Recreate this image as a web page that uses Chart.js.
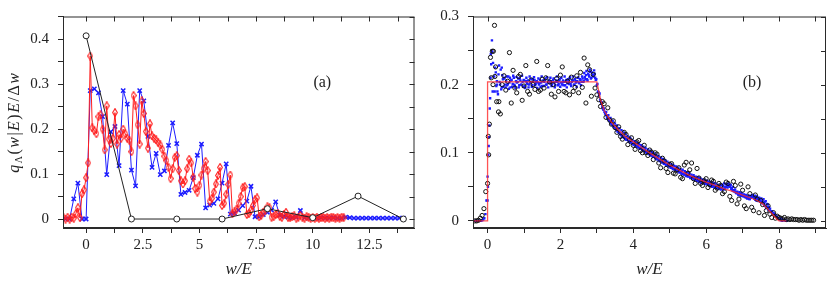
<!DOCTYPE html>
<html>
<head>
<meta charset="utf-8">
<script src="https://cdn.jsdelivr.net/npm/chart.js@4.4.1/dist/chart.umd.min.js"></script>
<style>
  body { margin: 0; background: #fff; width: 831px; height: 282px; position: relative; overflow: hidden; }
  canvas { position: absolute; top: 0; }
</style>
</head>
<body>
<canvas id="panelA" width="420" height="282" style="left:0"></canvas>
<canvas id="panelB" width="411" height="282" style="left:420px"></canvas>
<script>
// ---------- panel (a) ----------
// red diamonds: first at w/E = -1, spacing 1/11
const redAStart = -1, redAStep = 1 / 11;
const redAY = [
  .003, 0, .004, 0, .004, .002, .012, .025, .003, .056, .065,
  .092, .125, .363, .203, .197, .19, .228, .232, .2, .154, .252,
  .178, .168, .18, .237, .167, .188, .18, .2, .19, .18, .175,
  .15, .275, .252, .21, .167, .263, .235, .195, .158, .212, .185,
  .18, .176, .17, .165, .155, .14, .13, .115, .09, .112, .137,
  .141, .108, .085, .078, .085, .112, .133, .125, .093, .068, .06,
  .075, .098, .112, .128, .108, .04, .046, .06, .078, .097, .115,
  .03, .035, .055, .077, .098, .012, .016, .022, .035, .05, .07,
  .072, .01, .012, .02, .03, .043, .047, .005, .008, .015, .02,
  .027, .025, .004, .005, .01, .012, .006, .004, .01, .015, .004,
  .003, .005, .007, .002, .004, .008, .003, .002, .005, .004, .002,
  .003, .002, .004, .002, .003, .004, .002, .003, .002, .004, .003, .002, .003, .002, .004, .003
];
// blue crosses: first at w/E = -10/11, spacing 2/11
const blueAStart = -10 / 11, blueAStep = 2 / 11;
const blueAY = [
  0, 0, .045, .08, 0,
  0, .286, .29, .281, .228, .099, .194, .206, .119, .286,
  .256, .109, .074, .286, .263, .184, .115, .146, .099, .107,
  .164, .214, .168, .055, .059, .064, .092, .142, .167, .025,
  .031, .035, .045, .08, .123, .011, .013, .02, .03, .04,
  .073, .005, .005, .01, .015, .02, .038, .008, .006, .004,
  .003, .004, .019, .003, .002, .003, .002, .003, .002, .002,
  .003, .002, .002, .004, .003, .002, .002, .002, .002, .002,
  .002, .002, .002, .002, .002, .002, .002, .002
];
// black circles
const blackAX = [0, 2, 4, 6, 8, 10, 12, 14];
const blackAY = [.408, 0, 0, 0, .023, .003, .051, 0];
const xLabelsA = [0, 2.5, 5, 7.5, 10, 12.5];
const yLabelsA = [0, 0.1, 0.2, 0.3, 0.4];

// ---------- panel (b) ----------
const lineBX = [-0.4, 0, 0, 3.0, 3.1, 3.2, 3.4, 3.6, 3.8, 4.0, 4.25, 4.5, 4.75, 5.0, 5.25, 5.5,
  5.75, 6.0, 6.25, 6.5, 6.75, 7.0, 7.2, 7.4, 7.55, 7.7, 7.85, 7.95, 8.0, 8.2];
const lineBY = [0, 0, .204, .204, .178, .162, .145, .133, .123, .116, .107, .098, .09, .082, .075, .068,
  .062, .057, .052, .047, .043, .038, .034, .03, .025, .017, .008, .002, 0, 0];

// blue squares, first run: from w/E = -0.39, spacing 0.03
const blueBStart = -0.39, blueBStep = 0.03;
const blueBY = [
  0, 0, 0, 0, 0, 0, 0, 0, .001, .002,
  .004, .01, .03, .065, .11, .165, .245, .265, .232, .212,
  .225, .198, .19, .215, .204, .222, .196, .208, .21, .2,
  .205, .199, .212, .203, .196, .207, .201, .21, .198, .205,
  .203, .209, .199, .206, .2, .204, .207, .198, .205, .202,
  .206, .2, .203, .208, .199, .204, .207, .201, .205, .203,
  .2, .207, .203, .198, .206, .204, .209, .2, .203, .206,
  .202, .205, .2, .207, .203, .199, .206, .204, .201, .208,
  .203, .2, .206, .204, .199, .207, .202, .205, .209, .201,
  .204, .206, .2, .208, .203, .205, .21, .202, .207, .204,
  .209, .205, .211, .214, .208, .216, .212, .219, .21, .215,
  .212, .216, .207, .199, .19, .184, .178, .172, .168, .163,
  .16, .157, .154, .15, .148, .146, .143, .141, .139, .137,
  .136, .133, .131, .13, .128, .126, .125, .123, .122, .12,
  .119, .121, .117, .116, .115, .117, .113, .112, .114, .11,
  .109, .111, .107, .106, .108, .104, .103, .105, .101, .1,
  .102, .098, .097, .099, .095, .094, .096, .092, .091, .093,
  .089, .088, .09, .086, .085, .087, .083, .082, .084, .08,
  .081, .079, .078, .08, .076, .075, .077, .073, .074, .072,
  .071, .073, .069, .068, .07, .067, .066, .068, .065, .064,
  .065, .063, .062, .064, .061, .06, .062, .059, .06, .058,
  .057, .059, .056, .055, .057, .054, .053, .055, .052, .053,
  .051, .052, .05, .049, .051, .048, .049, .047, .048, .046,
  .047, .05, .052, .054, .051, .05, .047, .045, .044, .043,
  .042, .041, .04, .039, .04, .038, .037, .038, .036, .035,
  .034, .035, .033, .032, .034, .036, .035, .033, .031, .03,
  .032, .029, .031, .028, .026, .027, .024, .022, .019, .02,
  .016, .017, .013, .014, .01, .011, .007, .008, .005, .004,
  .003, .004, .002, .002, .001, .001, 0, 0
];
// blue squares, second run: from w/E = 0.195, spacing 0.03
const blueB2Start = 0.195, blueB2Step = 0.03;
const blueB2Y = [
  .19, .218, .205, .186, .228, .2, .193, .214, .197, .209,
  .196, .212, .201, .194, .21, .206, .197, .213, .2, .195,
  .211, .204, .196, .209, .2, .213, .197, .206, .195, .21,
  .201, .196, .212, .203, .197, .208, .211, .199, .204, .195,
  .209, .202, .197, .212, .205, .198, .207, .2, .211, .196,
  .205, .21, .198, .203, .209, .196, .204, .212, .199, .206,
  .197, .21, .203, .199, .212, .205, .196, .208, .201, .211,
  .198, .206, .212, .2, .205, .197, .21, .203, .208, .199,
  .212, .204, .217, .208, .22, .206, .214, .222, .209, .218,
  .213, .221, .21, .208,
  .201, .189, .187, .175, .174, .165, .165, .158, .16, .151,
  .155, .147, .151, .143, .147, .139, .143, .136, .14, .132,
  .136, .128, .133, .125, .13, .122, .127, .12, .124, .117,
  .122, .115, .119, .112, .117, .11, .115, .108, .113, .106,
  .111, .104, .109, .102, .107, .1, .105, .098, .103, .096,
  .101, .094, .099, .092, .097, .09, .095, .088, .093, .086,
  .091, .084, .089, .082, .087, .08, .085, .078, .083, .076,
  .081, .075, .08, .073, .078, .071, .076, .069, .075, .068,
  .073, .066, .071, .065, .07, .063, .068, .062, .067, .06,
  .065, .059, .064, .057, .063, .056, .061, .055, .06, .054,
  .059, .053, .058, .051, .057, .05, .056, .049, .055, .048,
  .053, .047, .052, .046, .053, .051, .055, .05, .054, .049,
  .055, .05, .053, .048, .05, .045, .046, .041, .043, .038,
  .042, .037, .041, .036, .039, .035, .038, .033, .037, .032,
  .037, .035, .038, .036, .037, .034, .036, .033, .034, .03,
  .033, .03, .032, .028, .029, .025, .024, .02, .018, .014,
  .014, .011, .01, .007, .006, .004, .003, .002, .001, 0
];
const blueBExtraX = [0.0, 0.01, 0.02, 0.04, 0.05, 0.07, 0.08, 0.1, 0.11, 0.13, 0.14, 0.26, 0.39];
const blueBExtraY = [.03, .05, .097, .123, .14, .18, .21, .23, .25, .248, .19, .2, .225];

// black circles: first at w/E = -0.35, spacing 0.05
const blackBStart = -0.35, blackBStep = 0.05;
const blackBY = [
  0, 0, .001, .004, .008, .018, .043, .055, .142, .21,
  .2, .212, .175, .16, .157, .2, .213, .192, .205, .247,
  .173, .221, .195, .188, .212, .215, .177, .198, .228, .19,
  .186, .207, .2, .193, .234, .19, .192, .208, .195, .21,
  .228, .204, .186, .2, .182, .209, .19, .214, .226, .19,
  .188, .205, .185, .211, .19, .196, .213, .188, .218, .196,
  .239, .173, .229, .222, .183, .215, .195, .185, .178, .168,
  .175, .172, .152, .166, .148, .142, .147, .137, .13, .138,
  .124, .12, .13, .127, .112, .119, .122, .111, .105, .116,
  .118, .103, .1, .111, .1, .096, .104, .101, .09, .1,
  .098, .085, .078, .092, .088, .077, .071, .083, .084, .07,
  .069, .075, .078, .064, .062, .082, .086, .07, .075, .085,
  .062, .055, .077, .063, .055, .052, .059, .062, .049, .053,
  .06, .058, .045, .048, .055, .052, .04, .043, .057, .055,
  .036, .03, .058, .052, .025, .032, .054, .045, .022, .018,
  .05, .04, .02, .015, .038, .032, .012, .03, .024, .008,
  .015, .022, .01, .005, .012, .004, .007, .005, .004, .003,
  .005, .002, .003, .002, .003, .002, .002, .002, .001, .002,
  .001, .002, .001, .001, .001, .001, .001
];
const blackBExtraX = [0.02, 0.03, 0.08, 0.13, 0.16, 0.19, 0.22, 0.31];
const blackBExtraY = [.124, .097, .24, .249, .249, .287, .226, .175];
const xLabelsB = [0, 2, 4, 6, 8];
const yLabelsB = [0, 0.1, 0.2, 0.3];

// ---------- helpers ----------
const SERIF = '"Liberation Serif", "DejaVu Serif", serif';
const INK = '#2a2a2a';
const BLUE = '#1c1cff';
const RED = '#ff1f1f';

const onGrid = (start, step, ys) => ys.map((y, i) => ({ x: start + i * step, y }));
const pairs = (xs, ys) => xs.map((x, i) => ({ x, y: ys[i] }));
const labelIn = list => v => list.some(l => Math.abs(l - v) < 1e-6) ? String(+v.toFixed(2)) : '';

// tall open diamond used as the red marker
function diamond(w, h, color) {
  const c = document.createElement('canvas');
  c.width = w; c.height = h;
  const g = c.getContext('2d');
  g.strokeStyle = color; g.lineWidth = 1.1;
  g.beginPath();
  g.moveTo(w / 2, 0.6); g.lineTo(w - 0.6, h / 2); g.lineTo(w / 2, h - 0.6); g.lineTo(0.6, h / 2);
  g.closePath(); g.stroke();
  return c;
}

function axis(min, max, step, labels, isX, size) {
  return {
    type: 'linear', min, max,
    ticks: {
      stepSize: step, includeBounds: false, autoSkip: false, maxRotation: 0,
      padding: isX ? 5 : 9, color: '#222',
      font: { family: SERIF, size: 15, lineHeight: 1 },
      callback: labelIn(labels)
    },
    grid: { drawOnChartArea: false, tickLength: 5, color: INK, lineWidth: 1 },
    border: { color: INK, width: 1 },
    afterFit: s => { if (isX) s.height = size; else s.width = size; }
  };
}

// frame + inward mirrored ticks on top/right, and the panel tag
const framePlugin = {
  id: 'frame',
  afterDraw(chart, args, opts) {
    const { ctx, chartArea: a, scales: { x, y } } = chart;
    ctx.save();
    ctx.strokeStyle = INK;
    ctx.lineWidth = 1;
    ctx.strokeRect(a.left + 0.5, a.top + 0.5, a.right - a.left - 1, a.bottom - a.top - 1);
    ctx.beginPath();
    x.ticks.forEach(t => {
      const p = Math.round(x.getPixelForValue(t.value)) + 0.5;
      ctx.moveTo(p, a.top); ctx.lineTo(p, a.top + 5);
    });
    y.ticks.forEach(t => {
      const p = Math.round(y.getPixelForValue(t.value)) + 0.5;
      ctx.moveTo(a.right, p); ctx.lineTo(a.right - 5, p);
    });
    ctx.stroke();
    ctx.fillStyle = '#222';
    ctx.font = '16px ' + SERIF;
    ctx.textAlign = 'center';
    ctx.textBaseline = 'middle';
    ctx.fillText(opts.tag, x.getPixelForValue(opts.tagAt[0]), y.getPixelForValue(opts.tagAt[1]));
    ctx.restore();
  }
};

// rotated y title  q_Λ(w|E)E/Δw
const yTitlePlugin = {
  id: 'ytitle',
  afterDraw(chart) {
    const { ctx, chartArea: a } = chart;
    const parts = [
      ['q', 'italic 16px', 0], ['Λ', '10px', 3], ['(', '16px', 0], ['w', 'italic 16px', 0],
      ['|', '16px', 0], ['E', 'italic 16px', 0], [')', '16px', 0], ['E', 'italic 16px', 0],
      ['/', '16px', 0], ['Δ', '16px', 0], ['w', 'italic 16px', 0]
    ];
    const gap = 1.5;
    ctx.save();
    let total = 0;
    parts.forEach(p => { ctx.font = p[1] + ' ' + SERIF; total += ctx.measureText(p[0]).width + gap; });
    ctx.translate(14, (a.top + a.bottom) / 2);
    ctx.rotate(-Math.PI / 2);
    ctx.fillStyle = '#222';
    ctx.textBaseline = 'alphabetic';
    let cx = -total / 2;
    parts.forEach(p => {
      ctx.font = p[1] + ' ' + SERIF;
      ctx.fillText(p[0], cx, 5 + p[2]);
      cx += ctx.measureText(p[0]).width + gap;
    });
    ctx.restore();
  }
};

// nudge layout padding until the plot frame sits where the reference has it
function alignArea(chart, t) {
  for (let k = 0; k < 4; k++) {
    const a = chart.chartArea;
    const p = chart.options.layout.padding;
    const d = { left: t.left - a.left, right: a.right - t.right, top: t.top - a.top, bottom: a.bottom - t.bottom };
    if (Math.abs(d.left) + Math.abs(d.right) + Math.abs(d.top) + Math.abs(d.bottom) < 0.5) break;
    chart.options.layout.padding = {
      left: p.left + d.left, right: p.right + d.right, top: p.top + d.top, bottom: p.bottom + d.bottom
    };
    chart.update();
  }
}

const xTitle = { display: true, text: 'w/E', color: '#222', font: { family: SERIF, size: 17, style: 'italic', lineHeight: 1.2 }, padding: { top: 0, bottom: 2 } };

const common = {
  responsive: false, animation: false, devicePixelRatio: 1,
  plugins: { legend: { display: false }, tooltip: { enabled: false } }
};

// ---------- chart (a) ----------
const xA = axis(-1.02, 14.49, 1.25, xLabelsA, true, 54);
xA.title = xTitle;
const chartA = new Chart(document.getElementById('panelA'), {
  type: 'scatter',
  data: {
    datasets: [
      { data: pairs(blackAX, blackAY), showLine: true, borderColor: '#222', borderWidth: 1,
        pointStyle: 'circle', pointRadius: 3, pointBorderWidth: 1, pointBorderColor: '#222', pointBackgroundColor: '#fff' },
      { data: onGrid(redAStart, redAStep, redAY), showLine: true, borderColor: RED, borderWidth: 1,
        pointStyle: diamond(6, 9, RED), pointRadius: 3.5 },
      { data: onGrid(blueAStart, blueAStep, blueAY), showLine: true, borderColor: BLUE, borderWidth: 1,
        pointStyle: 'crossRot', pointRadius: 3, pointBorderWidth: 1.5, pointBorderColor: BLUE }
    ]
  },
  options: {
    ...common,
    layout: { padding: { top: 7, right: 1, left: 0, bottom: 0 } },
    scales: { x: xA, y: axis(-0.02, 0.451, 0.05, yLabelsA, false, 63) },
    plugins: { ...common.plugins, frame: { tag: '(a)', tagAt: [10.42, 0.304] } }
  },
  plugins: [framePlugin, yTitlePlugin]
});
alignArea(chartA, { left: 63, right: 419, top: 7, bottom: 228 });

// ---------- chart (b) ----------
const xB = axis(-0.4, 9.29, 1, xLabelsB, true, 54);
xB.title = xTitle;
const chartB = new Chart(document.getElementById('panelB'), {
  type: 'scatter',
  data: {
    datasets: [
      { data: pairs(lineBX, lineBY), showLine: true, borderColor: 'rgba(255,40,40,0.8)', borderWidth: 1.3, pointRadius: 0 },
      { data: onGrid(blackBStart, blackBStep, blackBY).concat(pairs(blackBExtraX, blackBExtraY)),
        pointStyle: 'circle', pointRadius: 2.1, pointBorderWidth: 1, pointBorderColor: '#111', pointBackgroundColor: 'rgba(255,255,255,0)' },
      { data: onGrid(blueBStart, blueBStep, blueBY)
          .concat(onGrid(blueB2Start, blueB2Step, blueB2Y))
          .concat(pairs(blueBExtraX, blueBExtraY)),
        pointStyle: 'rect', pointRadius: 1.7, pointBorderWidth: 0, pointBackgroundColor: BLUE }
    ]
  },
  options: {
    ...common,
    layout: { padding: { top: 7, right: 2, left: 0, bottom: 0 } },
    scales: { x: xB, y: axis(-0.0104, 0.3, 0.05, yLabelsB, false, 53) },
    plugins: { ...common.plugins, frame: { tag: '(b)', tagAt: [7.26, 0.203] } }
  },
  plugins: [framePlugin]
});
alignArea(chartB, { left: 53, right: 409, top: 7, bottom: 228 });
</script>
</body>
</html>
